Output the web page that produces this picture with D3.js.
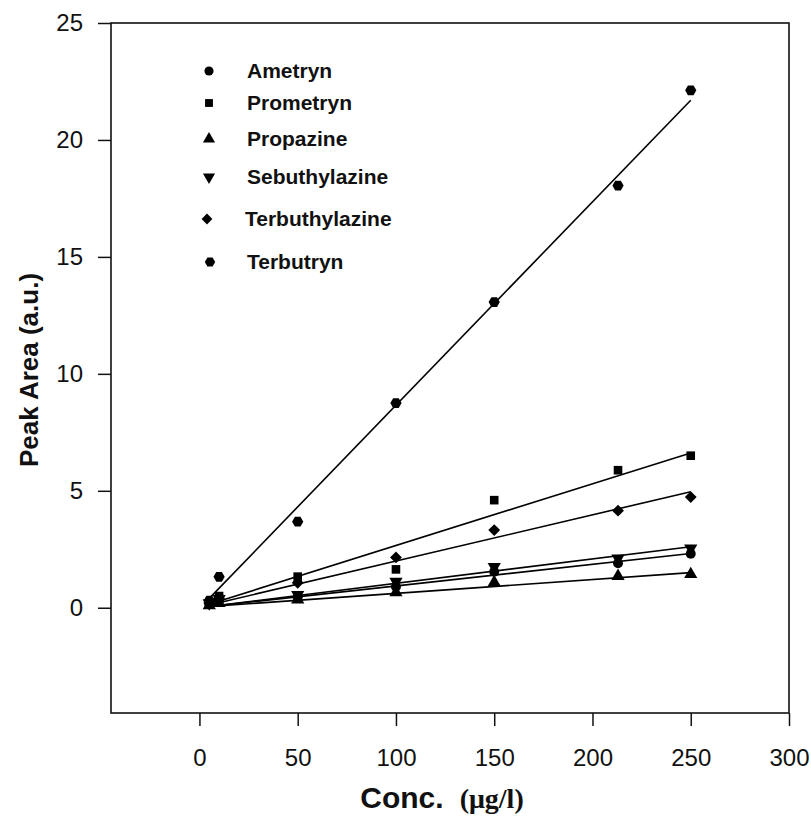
<!DOCTYPE html>
<html>
<head>
<meta charset="utf-8">
<script src="https://cdn.jsdelivr.net/npm/d3@7"></script>
<style>
  body { margin: 0; background: #fff; }
  svg { display: block; font-family: "Liberation Sans", Arial, sans-serif; }
</style>
</head>
<body>
<div id="chart"></div>
<script>
// concentrations (ug/l)
var conc = [5, 10, 50, 100, 150, 213, 250];
var names = ["Ametryn", "Prometryn", "Propazine", "Sebuthylazine", "Terbuthylazine", "Terbutryn"];

// peak areas
var ametryn        = [0.15, 0.30, 0.45, 0.90, 1.54, 1.90, 2.31];
var prometryn      = [0.25, 0.50, 1.33, 1.64, 4.60, 5.88, 6.50];
var propazine      = [0.10, 0.20, 0.35, 0.65, 1.08, 1.35, 1.43];
var sebuthylazine  = [0.20, 0.38, 0.55, 1.12, 1.75, 2.11, 2.54];
var terbuthylazine = [0.20, 0.40, 1.07, 2.15, 3.32, 4.15, 4.73];
var terbutryn      = [0.30, 1.32, 3.68, 8.75, 13.07, 18.05, 22.12];

// fitted lines: value at first and last concentration
var fitStart = [0.05, 0.15, 0.05, 0.05, 0.12, 0.40];
var fitEnd   = [2.32, 6.62, 1.50, 2.61, 4.96, 21.70];

var xTicks = [0, 50, 100, 150, 200, 250, 300];
var yTicks = [0, 5, 10, 15, 20, 25];

var series = [ametryn, prometryn, propazine, sebuthylazine, terbuthylazine, terbutryn];

var width = 811, height = 823;
var margin = {top: 23, right: 22, bottom: 110, left: 111};

var svg = d3.select("#chart").append("svg")
    .attr("width", width)
    .attr("height", height);

svg.append("rect").attr("width", width).attr("height", height).attr("fill", "#fff");

var x = d3.scaleLinear()
    .domain([-45, 300])
    .range([margin.left, width - margin.right]);
var y = d3.scaleLinear()
    .domain([-4.5, 25])
    .range([height - margin.bottom, margin.top]);

// hexagon symbol for Terbutryn
var hexagon = {
    draw: function(context, size) {
        var r = Math.sqrt(size / (1.5 * Math.sqrt(3)));
        for (var i = 0; i < 6; i++) {
            var a = Math.PI / 3 * i;
            var px = r * Math.cos(a), py = r * Math.sin(a);
            if (i == 0) context.moveTo(px, py); else context.lineTo(px, py);
        }
        context.closePath();
    }
};
var symbols = [d3.symbolCircle, d3.symbolSquare, d3.symbolTriangle, d3.symbolTriangle, d3.symbolSquare, hexagon];
var sizes = [78, 74, 76, 76, 70, 82];
// extra transform per symbol (flip for down triangle, rotate for diamond)
var extra = ["", "", "", " scale(1,-1)", " rotate(45)", ""];

// axes
svg.append("g")
    .attr("transform", "translate(" + margin.left + ",0)")
    .call(d3.axisLeft(y).tickValues(yTicks).tickSize(13).tickPadding(15))
    .call(g => g.select(".domain").remove())
    .call(g => g.selectAll("line").attr("stroke", "#111").attr("stroke-width", 1.5))
    .call(g => g.selectAll("text").attr("font-size", "24px").attr("fill", "#111")
        .attr("font-family", "Liberation Sans, Arial, sans-serif"));

svg.append("g")
    .attr("transform", "translate(0," + (height - margin.bottom) + ")")
    .call(d3.axisBottom(x).tickValues(xTicks).tickSize(13).tickPadding(23))
    .call(g => g.select(".domain").remove())
    .call(g => g.selectAll("line").attr("stroke", "#111").attr("stroke-width", 1.5))
    .call(g => g.selectAll("text").attr("font-size", "24px").attr("fill", "#111")
        .attr("font-family", "Liberation Sans, Arial, sans-serif"));

// frame
svg.append("rect")
    .attr("x", x(-45))
    .attr("y", y(25))
    .attr("width", x(300) - x(-45))
    .attr("height", y(-4.5) - y(25))
    .attr("fill", "none")
    .attr("stroke", "#111")
    .attr("stroke-width", 1.6);

// fit lines
var plot = svg.append("g");
series.forEach(function(s, i) {
    plot.append("line")
        .attr("x1", x(conc[0]))
        .attr("y1", y(fitStart[i]))
        .attr("x2", x(conc[conc.length - 1]))
        .attr("y2", y(fitEnd[i]))
        .attr("stroke", "#000")
        .attr("stroke-width", 1.6);
});

// points
series.forEach(function(s, i) {
    plot.selectAll(".pts" + i)
        .data(s)
        .join("path")
        .attr("class", "pts" + i)
        .attr("d", d3.symbol().type(symbols[i]).size(sizes[i]))
        .attr("transform", function(d, j) {
            return "translate(" + x(conc[j]) + "," + y(d) + ")" + extra[i];
        })
        .attr("fill", "#000");
});

// legend
var legendY = [71, 103, 139, 177, 219, 262];
var legendX = [209, 209, 209, 209, 207, 210];
var legend = svg.append("g");
names.forEach(function(n, i) {
    legend.append("path")
        .attr("d", d3.symbol().type(symbols[i]).size(sizes[i] - 12))
        .attr("transform", "translate(" + legendX[i] + "," + legendY[i] + ")" + extra[i])
        .attr("fill", "#000");
    legend.append("text")
        .attr("x", i == 4 ? 245 : 247)
        .attr("y", legendY[i])
        .attr("dy", "0.35em")
        .attr("font-size", "21px")
        .attr("font-weight", "bold")
        .attr("fill", "#111")
        .text(n);
});

// axis titles
svg.append("text")
    .attr("transform", "translate(38," + ((y(25) + y(-4.5)) / 2 + 2) + ") rotate(-90)")
    .attr("text-anchor", "middle")
    .attr("font-size", "26px")
    .attr("font-weight", "bold")
    .attr("fill", "#111")
    .text("Peak Area (a.u.)");

var xt = svg.append("text")
    .attr("x", 442)
    .attr("y", 808)
    .attr("text-anchor", "middle")
    .attr("fill", "#111");
xt.append("tspan")
    .attr("font-size", "30px")
    .attr("font-weight", "bold")
    .text("Conc.");
xt.append("tspan")
    .attr("dx", 16)
    .attr("font-size", "28px")
    .attr("font-weight", "bold")
    .attr("font-family", "Liberation Serif, Times New Roman, serif")
    .text("(μg/l)");
</script>
</body>
</html>
